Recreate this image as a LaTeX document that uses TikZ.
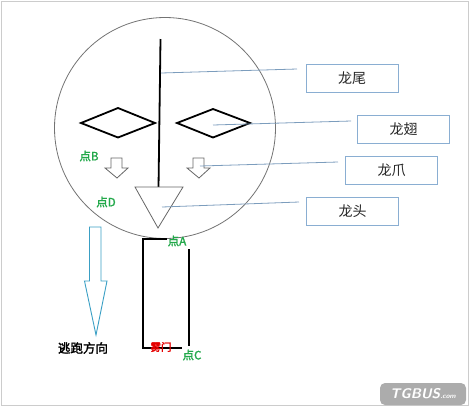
\documentclass[tikz,border=0pt]{standalone}
\usepackage{fontspec}
\newfontfamily\cjk{Noto Sans CJK SC}
\newfontfamily\cjkb[FakeBold=2]{Noto Sans CJK SC}
\begin{document}
\begin{tikzpicture}[x=1pt,y=-1pt,
  lbl/.style={draw=lblue,line width=1pt,minimum width=92pt,minimum height=28pt,inner sep=0pt,text=black!85,font=\cjk\fontsize{14}{14}\selectfont},
  con/.style={draw=lblue!90!black,line width=0.8pt},
  pt/.style={text=ptgreen,font=\cjkb\fontsize{11.5}{11.5}\selectfont,inner sep=0pt},
  thick2/.style={line width=1.8pt,black},
  hollow/.style={draw=gray!80!black,line width=0.8pt}]
\definecolor{lblue}{HTML}{8AAED2}
\definecolor{ptgreen}{HTML}{22A84A}
\definecolor{escblue}{HTML}{3A9FC4}
\useasboundingbox (0,0) rectangle (470,408);
\draw[gray!40,line width=0.8pt] (1,1) rectangle (468,405);
% big circle
\draw[gray!90!black,line width=0.8pt] (165,128) circle[radius=110.5];
% vertical spine
\coordinate (s1) at (160.5,39);
\coordinate (s2) at (158.5,188);
\draw[thick2] (s1) -- (s2);
% diamonds
\draw[thick2,line join=miter] (81,123) -- (118,108) -- (155,123) -- (118,137.5) -- cycle;
\draw[thick2,line join=miter] (177,123) -- (213,109) -- (250,123) -- (213,137.5) -- cycle;
% small hollow down arrows
\draw[hollow] (111,158) -- (122,158) -- (122,168) -- (128,168) -- (117,178) -- (105,168) -- (111,168) -- cycle;
\draw[hollow] (193,158) -- (204,158) -- (204,168) -- (210,168) -- (199,178) -- (187,168) -- (193,168) -- cycle;
% head triangle
\draw[gray!80!black,line width=0.8pt,fill=white] (135,187) -- (183,187) -- (158,228) -- cycle;
% bracket
\draw[thick2] (167,239) -- (143,239) -- (143,348) -- (182,348);
\draw[thick2] (189,249) -- (189,346);
% escape arrow
\draw[escblue,line width=0.9pt] (89.5,227) -- (101,227) -- (101,281) -- (107,281) -- (96,335) -- (84.5,281) -- (89.5,281) -- cycle;
% labels in boxes
\node[lbl] (tail) at (352,78) {龙尾};
\node[lbl] (wing) at (403.5,129.5) {龙翅};
\node[lbl] (claw) at (391.5,170.5) {龙爪};
\node[lbl] (head) at (352.5,211) {龙头};
% connectors
\coordinate (ct) at (161,73);
\coordinate (cw) at (213,125);
\coordinate (cc) at (200,166);
\coordinate (ch) at (162,207);
\draw[con] (ct) -- (297,69);
\draw[con] (cw) -- (351,121);
\draw[con] (cc) -- (338,162);
\draw[con] (ch) -- (299,202);
% point labels
\node[pt] (pB) at (89,156) {点B};
\node[pt] (pD) at (106,202) {点D};
\node[pt] (pA) at (177,241) {点A};
\node[pt] (pC) at (192,355) {点C};
\node[text=red!90!black,font=\cjkb\fontsize{10.5}{10.5}\selectfont,inner sep=0pt] (door) at (161,347) {雾门};
\node[font=\cjkb\fontsize{12.5}{12.5}\selectfont,inner sep=0pt] (esc) at (83,348) {逃跑方向};
% watermark
\node[fill=gray!65,rounded corners=5pt,minimum width=86pt,minimum height=22pt,inner sep=0pt,text=white,font=\sffamily\bfseries\itshape\fontsize{14}{14}\selectfont] (wm) at (423,394) {TGBUS{\fontsize{7}{7}\selectfont.com}};
\end{tikzpicture}
\end{document}
